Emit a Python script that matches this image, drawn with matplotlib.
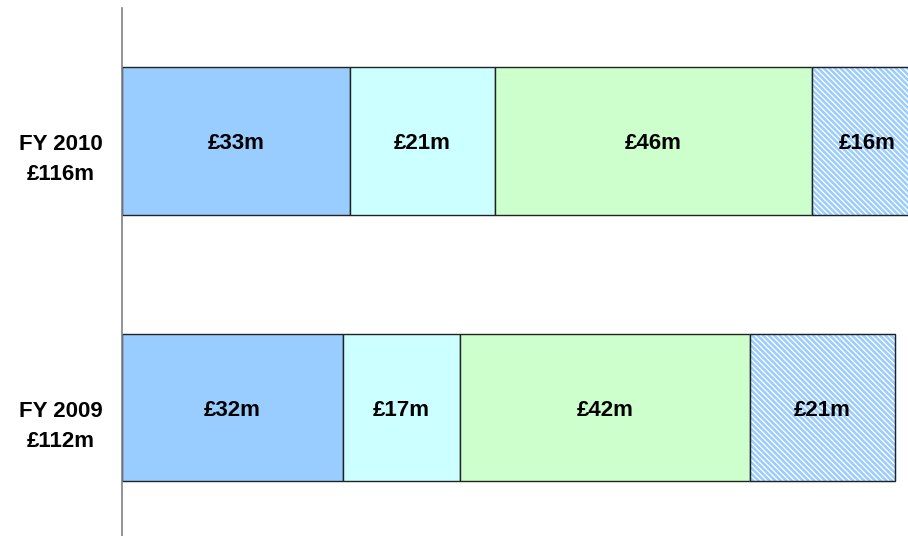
import matplotlib.pyplot as plt
from matplotlib.transforms import blended_transform_factory

plt.rcParams['font.family'] = ['Liberation Sans', 'DejaVu Sans']
plt.rcParams['hatch.linewidth'] = 1.8

years = ["FY 2009", "FY 2010"]
totals = ["£112m", "£116m"]
# segments, left to right
seg_a = [32, 33]
seg_b = [17, 21]
seg_c = [42, 46]
seg_d = [21, 16]

colors = ['#99CCFF', '#CCFFFF', '#CCFFCC', 'white']
hatches = [None, None, None, '\\' * 6]


def main():
    fig = plt.figure(figsize=(9.08, 5.36), dpi=100)
    ax = fig.add_axes([122 / 908, 0, (908 - 122) / 908, (536 - 8) / 536])

    ypos = [0, 1]
    left = [0, 0]
    for vals, col, h in zip([seg_a, seg_b, seg_c, seg_d], colors, hatches):
        bars = ax.barh(ypos, vals, left=left, height=0.555, color=col,
                       edgecolor='#222222', linewidth=1.0, hatch=h, zorder=2)
        if h:
            for b in bars:
                b.set_edgecolor('#99CCFF')
            # draw the outline separately so it stays dark
            ax.barh(ypos, vals, left=left, height=0.555, color='none',
                    edgecolor='#222222', linewidth=1.0, zorder=3)
        for y, v, l in zip(ypos, vals, left):
            ax.text(l + v / 2, y - 0.01, "£%dm" % v, ha='center', va='center',
                    fontsize=16, fontweight='bold', zorder=4)
        left = [l + v for l, v in zip(left, vals)]

    ax.set_xlim(0, 113.9)
    ax.set_ylim(-0.482, 1.499)

    trans = blended_transform_factory(ax.transAxes, ax.transData)
    for y, yr, tot in zip(ypos, years, totals):
        ax.text(-0.025, y - 0.07, yr + "\n" + tot, transform=trans,
                ha='right', va='center', multialignment='center',
                fontsize=16, fontweight='bold', linespacing=1.55)

    ax.set_xticks([])
    ax.set_yticks([])
    for s in ['top', 'right', 'bottom']:
        ax.spines[s].set_visible(False)
    ax.spines['left'].set_color('#808080')
    ax.spines['left'].set_linewidth(1.2)

    fig.savefig('out.png', dpi=100)
    plt.close()


if __name__ == "__main__":
    main()
